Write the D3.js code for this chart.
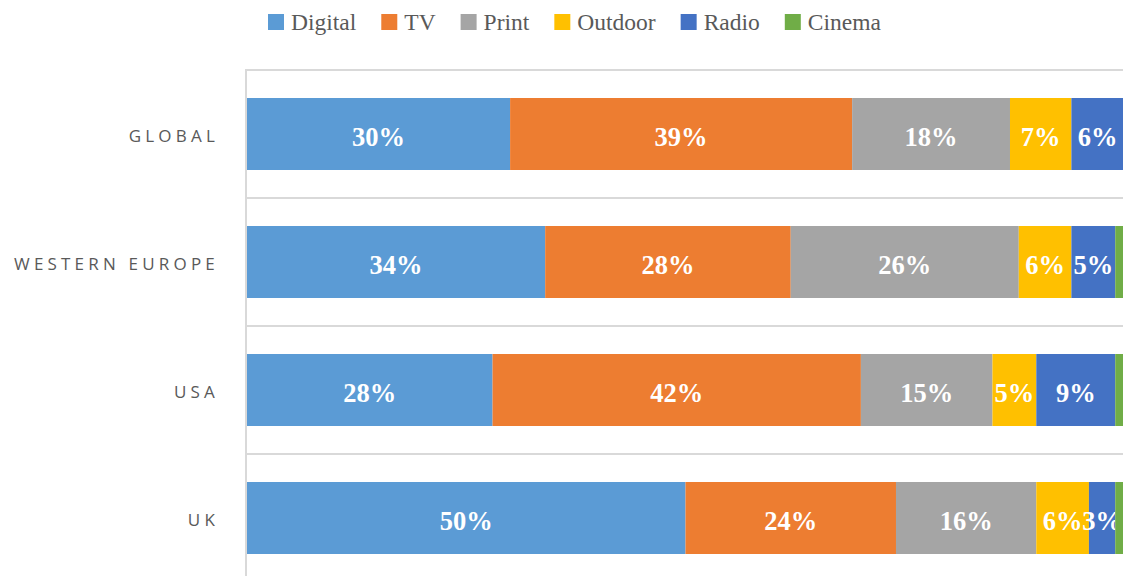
<!DOCTYPE html>
<html>
<head>
<meta charset="utf-8">
<script src="https://cdn.jsdelivr.net/npm/d3@7/dist/d3.min.js"></script>
<style>
  html, body { margin: 0; padding: 0; background: #fff; overflow: hidden; }
  svg { display: block; }
  .cat-label { font-family: "Open Sans", sans-serif; font-size: 17px; fill: #595959; letter-spacing: 4.2px; }
  .legend-text { font-family: "Liberation Serif", "Times New Roman", serif; font-size: 23.5px; fill: #595959; }
  .val-label { font-family: "Liberation Serif", "Times New Roman", serif; font-size: 26.5px; font-weight: bold; fill: #fff; }
</style>
</head>
<body>
<div id="chart"></div>
<script>
// ── Data ─────────────────────────────────────────────
const regions = ['GLOBAL', 'WESTERN EUROPE', 'USA', 'UK'];
const media = ['Digital', 'TV', 'Print', 'Outdoor', 'Radio', 'Cinema'];
const colors = ['#5B9BD5', '#ED7D31', '#A5A5A5', '#FFC000', '#4472C4', '#70AD47'];

// shares (%) per region, in the order of `media`
const globalShare  = [30, 39, 18, 7, 6, 0];
const westernShare = [34, 28, 26, 6, 5, 1];
const usaShare     = [28, 42, 15, 5, 9, 1];
const ukShare      = [50, 24, 16, 6, 3, 1];

const shares = [globalShare, westernShare, usaShare, ukShare];

// ── Layout ───────────────────────────────────────────
const width = 1123, height = 576;
const plot = { left: 247, right: 1124, top: 70, bottom: 582 };

const svg = d3.select('#chart').append('svg')
  .attr('width', width)
  .attr('height', height);

const x = d3.scaleLinear().domain([0, 100]).range([plot.left, plot.right]);
const y = d3.scaleBand().domain(regions).range([plot.top, plot.bottom])
  .paddingInner(0.4375).paddingOuter(0.21875);

// build stacked table
const rows = regions.map((r, i) => {
  const o = { region: r };
  media.forEach((m, j) => { o[m] = shares[i][j]; });
  return o;
});
const stacked = d3.stack().keys(media)(rows);

// ── Gridlines (category boundaries) ──────────────────
const step = y.step();
const gridYs = d3.range(regions.length + 1).map(i => plot.top + i * step);
svg.selectAll('.grid').data(gridYs)
  .join('line')
  .attr('class', 'grid')
  .attr('x1', plot.left).attr('x2', width)
  .attr('y1', d => d).attr('y2', d => d)
  .attr('stroke', '#d9d9d9')
  .attr('stroke-width', 2);

// ── Bars ─────────────────────────────────────────────
const layers = svg.selectAll('.layer').data(stacked)
  .join('g')
  .attr('class', 'layer')
  .attr('fill', (d, i) => colors[i]);

layers.selectAll('rect').data(d => d)
  .join('rect')
  .attr('x', d => x(d[0]))
  .attr('y', d => y(d.data.region))
  .attr('width', d => x(d[1]) - x(d[0]))
  .attr('height', y.bandwidth());

// value labels
layers.selectAll('text').data(d => d.filter(v => v[1] - v[0] >= 2))
  .join('text')
  .attr('class', 'val-label')
  .attr('x', d => (x(d[0]) + x(d[1])) / 2)
  .attr('y', d => y(d.data.region) + y.bandwidth() / 2 + 3)
  .attr('dy', '0.35em')
  .attr('text-anchor', 'middle')
  .text(d => `${d[1] - d[0]}%`);

// ── Vertical axis line ───────────────────────────────
svg.append('line')
  .attr('x1', plot.left - 1).attr('x2', plot.left - 1)
  .attr('y1', plot.top - 1).attr('y2', height)
  .attr('stroke', '#d9d9d9')
  .attr('stroke-width', 2);

// category labels
svg.selectAll('.cat-label').data(regions)
  .join('text')
  .attr('class', 'cat-label')
  .attr('x', 219)
  .attr('y', d => y(d) + y.bandwidth() / 2 + 2)
  .attr('dy', '0.35em')
  .attr('text-anchor', 'end')
  .text(d => d);

// ── Legend ───────────────────────────────────────────
const legend = svg.append('g').attr('transform', 'translate(268, 14)');
let lx = 0;
media.forEach((m, i) => {
  const item = legend.append('g').attr('transform', `translate(${lx},0)`);
  item.append('rect').attr('width', 16).attr('height', 16).attr('fill', colors[i]);
  const t = item.append('text')
    .attr('class', 'legend-text')
    .attr('x', 23).attr('y', 8).attr('dy', '0.35em')
    .text(m);
  lx += 23 + t.node().getComputedTextLength() + 25;
});
</script>
</body>
</html>
